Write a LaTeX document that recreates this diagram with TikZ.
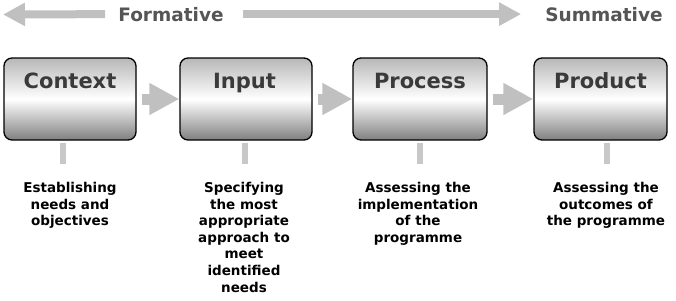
\documentclass[tikz,border=0pt]{standalone}
\usepackage{fontspec}
\setmainfont{DejaVu Sans}
\usetikzlibrary{arrows.meta,calc}
\definecolor{arrowgray}{RGB}{192,192,192}
\definecolor{tickgray}{RGB}{200,200,200}
\definecolor{phasegray}{RGB}{85,85,85}
\definecolor{titlegray}{RGB}{58,58,58}
\tikzset{
  stage/.style={draw=black, line width=1.3pt, rounded corners=8pt,
    minimum width=132pt, minimum height=82pt, inner sep=0pt,
    top color=black!28, bottom color=black!50, middle color=white},
  stagetitle/.style={anchor=base, inner sep=0pt, text=titlegray,
    font=\fontsize{21}{25}\selectfont\bfseries},
  phase/.style={anchor=base, inner sep=0pt, text=phasegray,
    font=\fontsize{18.5}{22}\selectfont\bfseries},
  note/.style={anchor=north, inner sep=0pt, align=center,
    font=\fontsize{13.5}{16.6}\selectfont\bfseries},
  flow/.style={draw=arrowgray, line width=11pt,
    -{Triangle[length=30pt,width=30pt]}},
  phasearrow/.style={draw=arrowgray, line width=8pt,
    -{Triangle[length=22pt,width=22pt]}},
  tick/.style={draw=tickgray, line width=6pt}
}
\begin{document}
\begin{tikzpicture}[x=1pt,y=-1pt]
    \useasboundingbox (0,0) rectangle (676,300);
    % formative / summative
    \node[phase] (formative) at (171,21) {Formative};
    \node[phase] (summative) at (604,21) {Summative};
    \coordinate (start) at (3,14.5);
    \path[phasearrow, shorten <=13pt] (formative.west) -- (start);
    \path[phasearrow, shorten <=19pt, shorten >=24pt] (formative.east) -- (summative.west);
    % stages
    \node[stage] (context) at (70,99) {};
    \node[stage] (input) at (246,99) {};
    \node[stage, minimum width=134pt] (process) at (420,99) {};
    \node[stage, minimum width=133pt] (product) at (600.5,99) {};
    \node[stagetitle] (context-t) at ([yshift=-31pt]context.north) {Context};
    \node[stagetitle] (input-t) at ([xshift=-1.5pt,yshift=-31pt]input.north) {Input};
    \node[stagetitle] (process-t) at ([yshift=-31pt]process.north) {Process};
    \node[stagetitle] (product-t) at ([yshift=-31pt]product.north) {Product};
    % flow between stages
    \path[flow, shorten <=5pt] (context) -- (input);
    \path[flow, shorten <=5pt] (input) -- (process);
    \path[flow, shorten <=5pt] (process) -- (product);
    % ticks
    \path[tick] ($(context.south)+(-7,2)$) -- ++(0,21);
    \path[tick] ($(input.south)+(-1,2)$) -- ++(0,21);
    \path[tick] ($(process.south)+(0,2)$) -- ++(0,21);
    \path[tick] ($(product.south)+(6.5,2)$) -- ++(0,21);
    % descriptions
    \node[note] (context-d) at (70,182) {Establishing\\needs and\\objectives};
    \node[note] (input-d) at (244,182) {Specifying\\the most\\appropriate\\approach to\\meet\\identified\\needs};
    \node[note] (process-d) at (418,182) {Assessing the\\implementation\\of the\\programme};
    \node[note] (product-d) at (606,182) {Assessing the\\outcomes of\\the programme};
\end{tikzpicture}
\end{document}
